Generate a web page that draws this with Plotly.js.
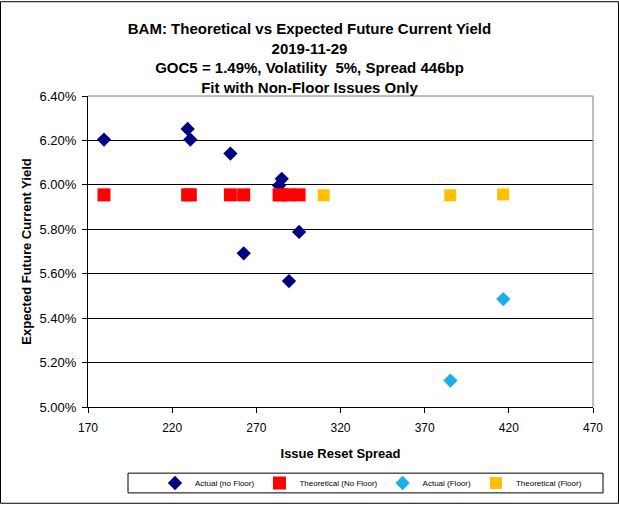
<!DOCTYPE html>
<html>
<head>
<meta charset="utf-8">
<script src="https://cdn.plot.ly/plotly-3.0.1.min.js"></script>
<style>
  html, body { margin: 0; padding: 0; background: #ffffff; }
  #chart { width: 619px; height: 509px; }
</style>
</head>
<body>
<div id="chart"></div>
<script>
// Data
const actualNoFloorX = [179.5, 229.2, 230.8, 254.6, 262.5, 283.5, 285.1, 289.4, 295.4];
const actualNoFloorY = [0.06204, 0.06252, 0.06204, 0.06141, 0.05692, 0.05997, 0.06027, 0.05567, 0.05788];
const theoNoFloorX = [179.5, 229.2, 230.8, 254.6, 262.5, 283.5, 285.1, 289.4, 295.4];
const theoNoFloorY = [0.05955, 0.05955, 0.05955, 0.05955, 0.05955, 0.05955, 0.05955, 0.05955, 0.05955];
const actualFloorX = [385.3, 416.7];
const actualFloorY = [0.05119, 0.05486];
const theoFloorX = [310.0, 385.2, 416.6];
const theoFloorY = [0.05953, 0.05953, 0.05957];
const xTicks = [170, 220, 270, 320, 370, 420, 470];
const yTicks = [0.050, 0.052, 0.054, 0.056, 0.058, 0.060, 0.062, 0.064];

const FONT = "Liberation Sans, Arial, sans-serif";

const traces = [
  { type: 'scatter', mode: 'markers', name: 'Actual (no Floor)',
    x: actualNoFloorX, y: actualNoFloorY,
    marker: { symbol: 'diamond', size: 11, color: '#000080' } },
  { type: 'scatter', mode: 'markers', name: 'Theoretical (No Floor)',
    x: theoNoFloorX, y: theoNoFloorY,
    marker: { symbol: 'square', size: 13, color: '#FF0000' } },
  { type: 'scatter', mode: 'markers', name: 'Actual (Floor)',
    x: actualFloorX, y: actualFloorY,
    marker: { symbol: 'diamond', size: 11, color: '#1AAFE8' } },
  { type: 'scatter', mode: 'markers', name: 'Theoretical (Floor)',
    x: theoFloorX, y: theoFloorY,
    marker: { symbol: 'square', size: 12, color: '#FFC000' } }
];

const L = 88, R = 593, T = 96, B = 411, W = 619, H = 509;
const pw = R - L, ph = B - T;
const px = v => (v - L) / pw;
const py = v => (B - v) / ph;

const layout = {
  width: W, height: H,
  margin: { l: L, r: W - R, t: T, b: H - B, pad: 0 },
  paper_bgcolor: '#ffffff', plot_bgcolor: '#ffffff',
  font: { family: FONT, color: '#000000', size: 12 },
  title: {
    text: '<b>BAM: Theoretical vs Expected Future Current Yield<br>2019-11-29<br>GOC5 = 1.49%, Volatility  5%, Spread 446bp<br>Fit with Non-Floor Issues Only</b>',
    font: { family: FONT, size: 15, color: '#000000' },
    x: 0.5, xref: 'container', xanchor: 'center',
    y: 1 - 34 / H, yref: 'container', yanchor: 'top'
  },
  xaxis: {
    range: [170, 470], tickvals: xTicks, ticktext: xTicks.map(String),
    showgrid: false, zeroline: false,
    showline: true, linecolor: '#000000', linewidth: 1,
    ticks: 'outside', ticklen: 5, tickcolor: '#000000', tickwidth: 1,
    ticklabelstandoff: 5,
    tickfont: { family: FONT, size: 12, color: '#000000' },
    title: { text: '<b>Issue Reset Spread</b>', font: { family: FONT, size: 13, color: '#000000' }, standoff: 14 },
    fixedrange: true
  },
  yaxis: {
    range: [0.050, 0.064], tickvals: yTicks, tickformat: '.2%',
    showgrid: true, gridcolor: '#000000', gridwidth: 1, zeroline: false,
    showline: true, linecolor: '#000000', linewidth: 1,
    ticks: 'outside', ticklen: 5, tickcolor: '#000000', tickwidth: 1,
    ticklabelstandoff: 3,
    tickfont: { family: FONT, size: 13, color: '#000000' },
    title: { text: '<b>Expected Future Current Yield</b>', font: { family: FONT, size: 13, color: '#000000' }, standoff: 4 },
    fixedrange: true
  },
  showlegend: true,
  legend: {
    orientation: 'h', x: px(155), xanchor: 'left', y: py(488), yanchor: 'middle',
    font: { family: FONT, size: 8, color: '#000000' },
    bgcolor: 'rgba(0,0,0,0)', borderwidth: 0
  },
  shapes: [
    // grey plot frame (top and right)
    { type: 'line', xref: 'paper', yref: 'paper', x0: 0, x1: 1, y0: 1, y1: 1, line: { color: '#808080', width: 1 } },
    { type: 'line', xref: 'paper', yref: 'paper', x0: 1, x1: 1, y0: 0, y1: 1, line: { color: '#808080', width: 1 } },
    // legend box
    { type: 'rect', xref: 'paper', yref: 'paper', x0: px(128), x1: px(603), y0: py(498), y1: py(478), line: { color: '#000000', width: 1 }, fillcolor: 'rgba(0,0,0,0)' },
    // outer chart border
    { type: 'rect', xref: 'paper', yref: 'paper', x0: px(0.5), x1: px(618.5), y0: py(508.5), y1: py(0.5), line: { color: '#000000', width: 1 }, fillcolor: 'rgba(0,0,0,0)' }
  ]
};

Plotly.newPlot('chart', traces, layout, { staticPlot: true, displayModeBar: false });
</script>
</body>
</html>
